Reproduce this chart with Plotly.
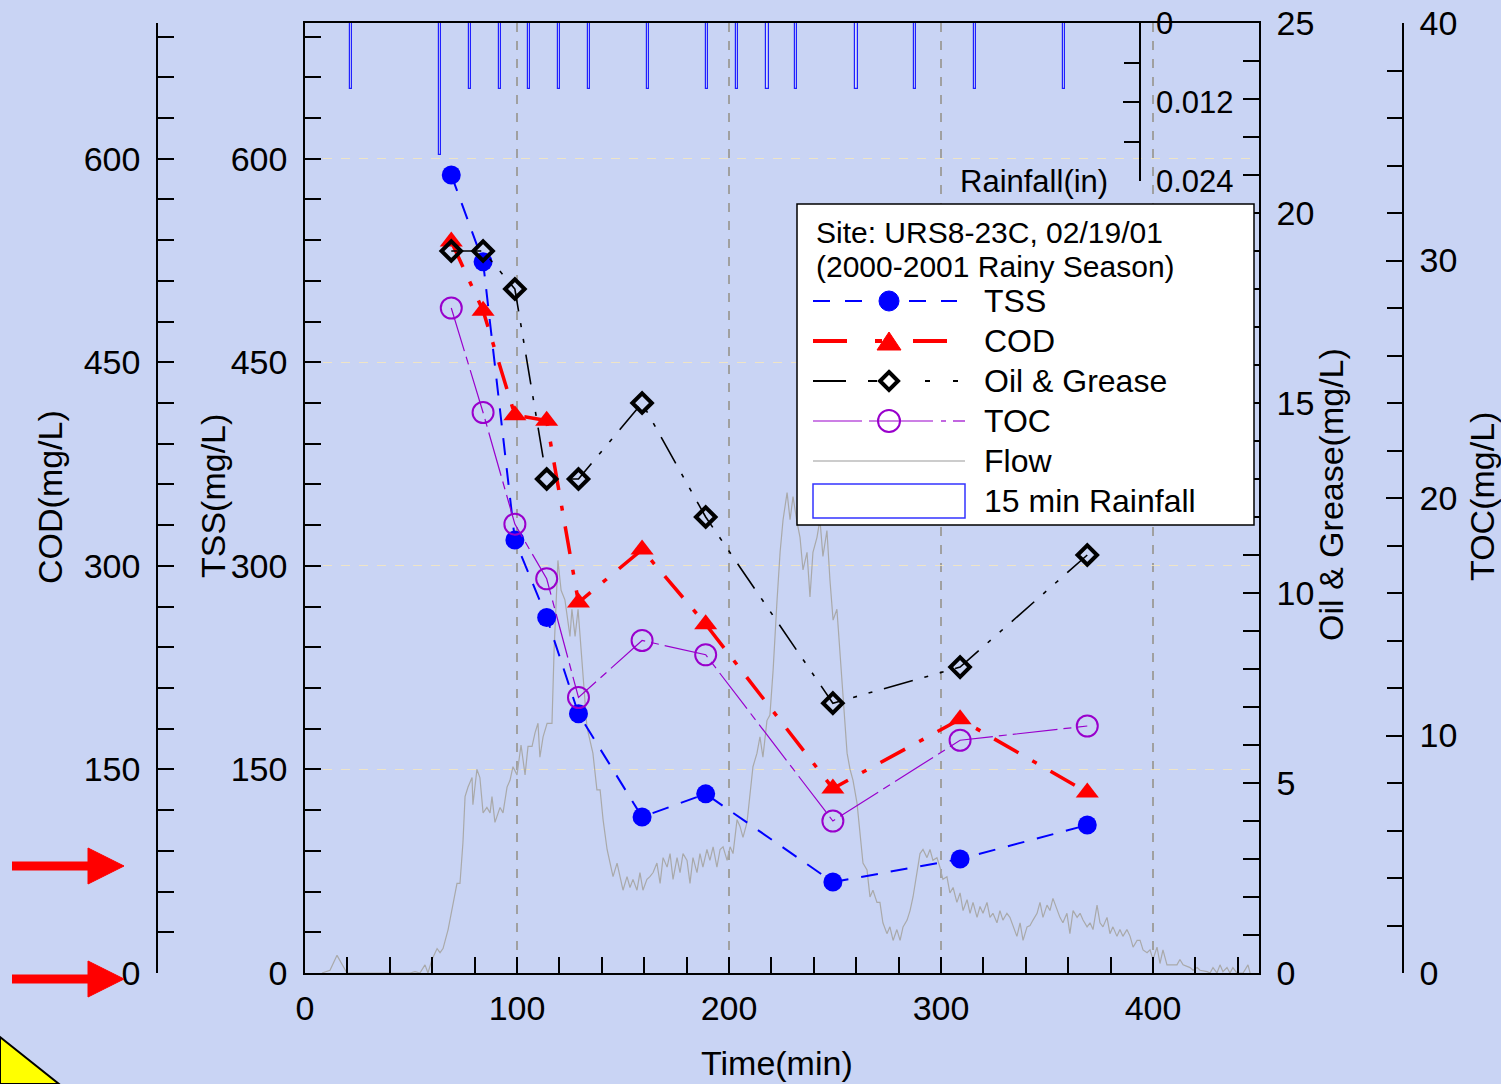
import plotly.graph_objects as go

W, H = 1501, 1084
FONT = "Liberation Sans, Arial, sans-serif"

# ---------------- data ----------------
sample_time = [69, 84, 99, 114, 129, 159, 189, 249, 309, 369]          # min
tss = [588, 524, 319, 262, 191, 115, 132, 67, 84, 109]                 # mg/L
cod = [539, 488, 411, 407, 273, 312, 257, 136, 187, 133]               # mg/L
oil_grease = [19, 19, 18, 13, 13, 15, 12, 7.1, 8.05, 11]               # mg/L
toc = [28.0, 23.6, 18.9, 16.6, 11.6, 14.0, 13.4, 6.4, 9.8, 10.4]       # mg/L

rain_time = [21.7, 63.7, 77.8, 92.0, 105.7, 119.8, 134.0, 161.8, 189.6,
             203.8, 218.0, 231.6, 260.0, 287.7, 316.0, 358.0]           # min
rain_in = [0.01, 0.02, 0.01, 0.01, 0.01, 0.01, 0.01, 0.01, 0.01,
           0.01, 0.01, 0.01, 0.01, 0.01, 0.01, 0.01]                     # in

# flow hydrograph (time min, flow – relative units, hidden axis 0..7)
flow_readings = [
    (8.0, 0.0), (11.8, 0.02), (15.1, 0.13), (17.5, 0.06), (19.8, 0.0), (25.9, 0.0),
    (35.4, 0.0), (44.8, 0.0), (49.5, 0.0), (51.9, 0.01), (54.2, 0.0), (56.6, 0.06),
    (58.0, 0.0), (59.9, 0.10), (62.3, 0.18), (63.7, 0.15), (65.1, 0.18), (67.5, 0.32),
    (69.3, 0.46), (71.7, 0.66), (73.1, 0.66), (74.5, 0.96), (75.5, 1.30), (76.9, 1.37),
    (78.8, 1.44), (79.2, 1.24), (81.1, 1.50), (82.5, 1.44), (84.0, 1.18), (85.8, 1.22),
    (87.3, 1.18), (88.2, 1.30), (89.6, 1.11), (92.0, 1.22), (93.4, 1.18), (95.3, 1.37),
    (96.7, 1.42), (98.1, 1.52), (100.0, 1.46), (101.9, 1.68), (103.8, 1.46), (105.2, 1.67),
    (107.1, 1.67), (108.5, 1.77), (109.9, 1.84), (110.8, 1.59), (112.3, 1.74), (114.2, 1.84),
    (116.5, 1.84), (117.5, 2.38), (119.3, 3.04), (120.8, 2.82), (122.6, 2.75), (124.1, 2.60),
    (125.0, 2.48), (125.9, 2.68), (127.4, 2.48), (128.8, 2.68), (130.7, 2.31), (133.0, 1.81),
    (135.8, 1.62), (137.7, 1.35), (139.2, 1.35), (140.6, 1.13), (142.5, 0.91), (143.9, 0.81),
    (145.3, 0.71), (147.2, 0.81), (148.6, 0.71), (150.0, 0.61), (151.9, 0.71), (153.3, 0.63),
    (154.7, 0.69), (156.6, 0.61), (158.0, 0.74), (159.4, 0.61), (161.3, 0.69), (162.7, 0.71),
    (164.2, 0.74), (166.0, 0.81), (167.5, 0.66), (168.9, 0.85), (170.8, 0.78), (172.2, 0.88),
    (173.6, 0.69), (175.5, 0.85), (176.9, 0.74), (178.3, 0.88), (180.2, 0.83), (181.6, 0.66),
    (183.0, 0.85), (184.9, 0.74), (186.3, 0.88), (187.7, 0.78), (189.6, 0.91), (191.0, 0.83),
    (192.5, 0.93), (194.3, 0.78), (195.8, 0.91), (197.2, 0.93), (199.1, 0.83), (200.5, 0.93),
    (201.9, 0.88), (203.8, 1.13), (205.2, 1.08), (206.6, 1.00), (208.5, 1.11), (209.9, 1.33),
    (211.3, 1.52), (213.2, 1.62), (214.6, 1.74), (216.0, 1.59), (217.9, 1.86), (219.3, 1.90),
    (220.8, 2.23), (222.6, 2.73), (224.1, 3.10), (225.5, 3.34), (227.4, 3.54), (228.8, 3.34),
    (230.2, 3.51), (232.1, 3.32), (233.5, 3.21), (234.9, 2.97), (236.8, 3.10), (238.2, 2.77),
    (239.6, 3.10), (241.5, 3.21), (242.9, 3.34), (244.3, 3.07), (246.2, 3.26), (247.6, 2.90),
    (249.1, 2.60), (250.9, 2.68), (252.4, 2.36), (253.8, 1.99), (255.7, 1.62), (257.1, 1.50),
    (258.5, 1.42), (260.4, 1.25), (261.8, 1.00), (263.2, 0.81), (265.1, 0.76), (266.5, 0.56),
    (267.9, 0.61), (269.8, 0.52), (271.2, 0.52), (272.6, 0.37), (274.5, 0.29), (275.9, 0.34),
    (277.4, 0.24), (279.2, 0.32), (280.7, 0.24), (282.1, 0.34), (284.0, 0.39), (285.4, 0.46),
    (286.8, 0.56), (288.7, 0.76), (290.1, 0.88), (291.5, 0.91), (293.4, 0.85), (294.8, 0.91),
    (296.2, 0.83), (298.1, 0.85), (299.5, 0.78), (300.9, 0.69), (302.8, 0.71), (304.2, 0.59),
    (305.7, 0.63), (307.5, 0.52), (309.0, 0.59), (310.4, 0.46), (312.3, 0.54), (313.7, 0.44),
    (315.1, 0.52), (317.0, 0.41), (318.4, 0.49), (319.8, 0.44), (321.7, 0.52), (323.1, 0.41),
    (324.5, 0.44), (326.4, 0.37), (327.8, 0.46), (329.2, 0.39), (331.1, 0.44), (332.5, 0.41),
    (334.0, 0.34), (335.8, 0.27), (337.3, 0.37), (338.7, 0.24), (340.6, 0.34), (342.0, 0.35),
    (343.4, 0.39), (345.3, 0.44), (346.7, 0.52), (348.1, 0.41), (350.0, 0.50), (351.4, 0.46),
    (352.8, 0.55), (354.7, 0.46), (356.1, 0.41), (357.5, 0.37), (359.4, 0.44), (360.8, 0.29),
    (362.3, 0.46), (364.2, 0.41), (365.6, 0.44), (367.0, 0.39), (368.9, 0.34), (370.3, 0.37),
    (371.7, 0.32), (373.6, 0.50), (375.0, 0.37), (376.4, 0.34), (378.3, 0.41), (379.7, 0.29),
    (381.1, 0.34), (383.0, 0.27), (384.4, 0.32), (385.8, 0.27), (387.7, 0.32), (389.2, 0.27),
    (390.6, 0.19), (392.5, 0.24), (393.9, 0.24), (395.3, 0.17), (397.2, 0.15), (398.6, 0.17),
    (400.0, 0.10), (401.9, 0.19), (403.3, 0.07), (404.7, 0.17), (406.6, 0.06), (408.0, 0.06),
    (411.3, 0.06), (412.7, 0.10), (414.2, 0.06), (417.5, 0.04), (418.9, 0.02), (420.8, 0.04),
    (422.2, 0.02), (425.5, 0.01), (426.9, 0.0), (428.3, 0.04), (430.2, 0.0), (431.6, 0.06),
    (433.0, 0.01), (434.9, 0.04), (436.3, 0.0), (437.7, 0.04), (439.6, 0.0), (442.5, 0.0),
    (444.8, 0.06), (445.8, 0.0),
]
flow_time = [t for t, _ in flow_readings]
flow_value = [v for _, v in flow_readings]

x_ticks = [0, 100, 200, 300, 400]
conc_ticks = [0, 150, 300, 450, 600]
og_ticks = [0, 5, 10, 15, 20, 25]
toc_ticks = [0, 10, 20, 30, 40]
rain_ticks = [0, 0.012, 0.024]
rain_ticktext = ["0", "0.012", "0.024"]

# ---------------- helpers (page pixel -> paper) ----------------
def PX(x):
    return x / W

def PY(y):
    return 1 - y / H

BLUE = "#0000ff"
RED = "#ff0000"
PURPLE = "#9900cc"
GRAY = "#a9a9a9"

fig = go.Figure()

fig.add_trace(go.Scatter(x=flow_time, y=flow_value, xaxis="x", yaxis="y", mode="lines",
                         line=dict(color=GRAY, width=1.2), showlegend=False, hoverinfo="skip"))
fig.add_trace(go.Bar(x=rain_time, y=rain_in, xaxis="x", yaxis="y6", width=1.3,
                     marker=dict(color="rgba(255,255,255,0.25)", line=dict(color="#2020ff", width=1.2)),
                     showlegend=False))
fig.add_trace(go.Scatter(x=sample_time, y=toc, xaxis="x", yaxis="y4", mode="lines+markers",
                         line=dict(color=PURPLE, width=1.2, dash="45px,6px,8px,6px"),
                         marker=dict(symbol="circle-open", size=21, color=PURPLE, line=dict(width=2, color=PURPLE)),
                         showlegend=False))
fig.add_trace(go.Scatter(x=sample_time, y=oil_grease, xaxis="x", yaxis="y5", mode="lines+markers",
                         line=dict(color="black", width=1.6, dash="30px,12px,4px,12px,4px,12px"),
                         marker=dict(symbol="diamond-open", size=15, color="black", line=dict(width=4, color="black")),
                         showlegend=False))
fig.add_trace(go.Scatter(x=sample_time, y=cod, xaxis="x", yaxis="y3", mode="lines+markers",
                         line=dict(color=RED, width=3.5, dash="28px,16px,5px,16px"),
                         marker=dict(symbol="triangle-up", size=20, color=RED),
                         showlegend=False))
fig.add_trace(go.Scatter(x=sample_time, y=tss, xaxis="x", yaxis="y2", mode="lines+markers",
                         line=dict(color=BLUE, width=2, dash="17px,13px"),
                         marker=dict(symbol="circle", size=19, color=BLUE),
                         showlegend=False))

tick_font = dict(family=FONT, size=34, color="black")
common = dict(showline=True, linecolor="black", linewidth=1.5, ticks="inside", ticklen=16,
              tickcolor="black", tickwidth=1.5, tickfont=tick_font, zeroline=False,
              fixedrange=True, automargin=False, ticklabelstandoff=9)

y_dom = [PY(973), PY(23)]

layout = dict(
    width=W, height=H, margin=dict(l=0, r=0, t=0, b=0),
    paper_bgcolor="#c9d4f4", plot_bgcolor="rgba(0,0,0,0)",
    showlegend=False, bargap=0,
    xaxis=dict(domain=[PX(305), PX(1259)], range=[0, 450], anchor="y",
               tickvals=x_ticks, mirror=True,
               minor=dict(dtick=20, tick0=0, ticks="inside", ticklen=16, tickcolor="black", tickwidth=1.5),
               showgrid=True, gridcolor="#a0a0a0", griddash="dash", gridwidth=1.5,
               **{**common, "ticklabelstandoff": 4}),
    yaxis=dict(domain=y_dom, range=[0, 7], visible=False, fixedrange=True),
    yaxis2=dict(overlaying="y", anchor="x", side="left", range=[0, 700], tickvals=conc_ticks,
                minor=dict(dtick=30, tick0=0, ticks="inside", ticklen=16, tickcolor="black", tickwidth=1.5),
                showgrid=True, gridcolor="rgba(245,230,190,0.85)", griddash="dash", gridwidth=1.2,
                **common),
    yaxis3=dict(overlaying="y", anchor="free", position=PX(157), side="left", range=[0, 700],
                tickvals=conc_ticks,
                minor=dict(dtick=30, tick0=0, ticks="inside", ticklen=16, tickcolor="black", tickwidth=1.5),
                showgrid=False, **common),
    yaxis4=dict(overlaying="y", anchor="free", position=PX(1403), side="right", range=[0, 40],
                tickvals=toc_ticks,
                minor=dict(dtick=2, tick0=0, ticks="inside", ticklen=15, tickcolor="black", tickwidth=1.5),
                showgrid=False, **common),
    yaxis5=dict(overlaying="y", anchor="x", side="right", range=[0, 25], tickvals=og_ticks,
                minor=dict(dtick=1, tick0=0, ticks="inside", ticklen=16, tickcolor="black", tickwidth=1.5),
                showgrid=False, **common),
    yaxis6=dict(domain=[PY(181), PY(23)], anchor="free", position=PX(1140), side="right",
                range=[0.024, 0], tickvals=rain_ticks, ticktext=rain_ticktext,
                minor=dict(dtick=0.006, tick0=0, ticks="inside", ticklen=15, tickcolor="black", tickwidth=1.5),
                showgrid=False,
                **{**common, "tickfont": dict(family=FONT, size=31, color="black")}),
)
fig.update_layout(**layout)

# ---------------- axis titles ----------------
ann = []
def text(x, y, s, size=34, angle=0, xanchor="center", yanchor="middle"):
    ann.append(dict(x=PX(x), y=PY(y), xref="paper", yref="paper", text=s, showarrow=False,
                    textangle=angle, xanchor=xanchor, yanchor=yanchor,
                    font=dict(family=FONT, size=size, color="black")))

text(50, 497, "COD(mg/L)", angle=-90)
text(213, 496, "TSS(mg/L)", angle=-90)
text(1331, 495, "Oil & Grease(mg/L)", angle=-90)
text(1482, 497, "TOC(mg/L)", angle=-90)
text(777, 1063, "Time(min)")
text(1110, 181, "Rainfall(in)", size=31, xanchor="right")

# ---------------- legend (drawn) ----------------
shapes = []
def seg(x0, y0, x1, y1, color, width):
    shapes.append(dict(type="line", xref="paper", yref="paper", x0=PX(x0), y0=PY(y0), x1=PX(x1), y1=PY(y1),
                       line=dict(color=color, width=width)))

shapes.append(dict(type="rect", xref="paper", yref="paper", x0=PX(797), y0=PY(525), x1=PX(1254), y1=PY(204),
                   fillcolor="white", line=dict(color="black", width=1.5), layer="above"))
text(814, 232, "Site: URS8-23C, 02/19/01", size=30, xanchor="left")
text(814, 266, "(2000-2001 Rainy Season)", size=30, xanchor="left")
labels = [("TSS", 301), ("COD", 341), ("Oil & Grease", 381), ("TOC", 421), ("Flow", 461), ("15 min Rainfall", 501)]
for s, yy in labels:
    text(982, yy, s, size=32, xanchor="left")

# TSS entry
for a, b in [(813, 830), (845, 862), (909, 926), (941, 957)]:
    seg(a, 301, b, 301, BLUE, 2)
shapes.append(dict(type="circle", xref="paper", yref="paper", x0=PX(879), x1=PX(899), y0=PY(311), y1=PY(291),
                   fillcolor=BLUE, line=dict(color=BLUE, width=1)))
# COD entry
for a, b in [(813, 847), (875, 882), (913, 947)]:
    seg(a, 341, b, 341, RED, 4)
shapes.append(dict(type="path", xref="paper", yref="paper",
                   path=f"M{PX(877)},{PY(350)} L{PX(901)},{PY(350)} L{PX(889)},{PY(332)} Z",
                   fillcolor=RED, line=dict(color=RED, width=1)))
# Oil & Grease entry
for a, b in [(813, 846), (868, 877), (925, 930), (953, 958)]:
    seg(a, 381, b, 381, "black", 2)
shapes.append(dict(type="path", xref="paper", yref="paper",
                   path=f"M{PX(889)},{PY(372)} L{PX(898)},{PY(381)} L{PX(889)},{PY(390)} L{PX(880)},{PY(381)} Z",
                   fillcolor="white", line=dict(color="black", width=4)))
# TOC entry
for a, b in [(813, 862), (869, 933), (941, 946), (953, 965)]:
    seg(a, 421, b, 421, PURPLE, 1.2)
shapes.append(dict(type="circle", xref="paper", yref="paper", x0=PX(878), x1=PX(900), y0=PY(432), y1=PY(410),
                   line=dict(color=PURPLE, width=2)))
# Flow entry
seg(813, 461, 965, 461, "#bbbbbb", 1.5)
# Rainfall entry
shapes.append(dict(type="rect", xref="paper", yref="paper", x0=PX(813), x1=PX(965), y0=PY(518), y1=PY(484),
                   fillcolor="white", line=dict(color="#3333ff", width=1.5)))

# ---------------- decorations: red arrows, yellow corner ----------------
for yy in (866, 979):
    seg(12, yy, 92, yy, RED, 9)
    shapes.append(dict(type="path", xref="paper", yref="paper",
                       path=f"M{PX(88)},{PY(yy - 18)} L{PX(124)},{PY(yy)} L{PX(88)},{PY(yy + 18)} Z",
                       fillcolor=RED, line=dict(color=RED, width=1)))
shapes.append(dict(type="path", xref="paper", yref="paper",
                   path=f"M{PX(0)},{PY(1037)} L{PX(59)},{PY(1084)} L{PX(0)},{PY(1084)} Z",
                   fillcolor="#ffff00", line=dict(color="black", width=2)))

for s in shapes:
    s.setdefault("layer", "above")

fig.update_layout(annotations=ann, shapes=shapes)
fig.write_html("out.html")
